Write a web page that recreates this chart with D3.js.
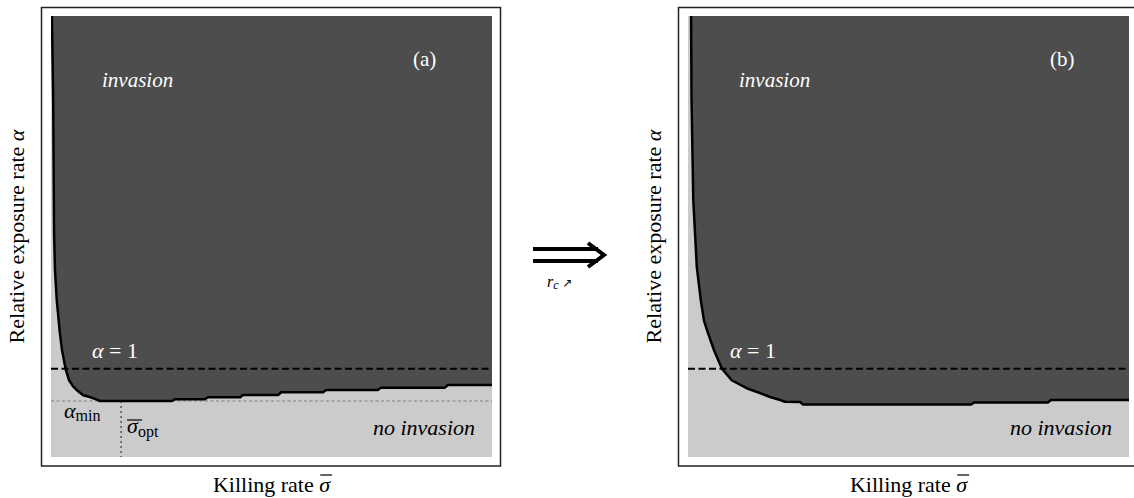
<!DOCTYPE html>
<html>
<head>
<meta charset="utf-8">
<script src="https://cdn.jsdelivr.net/npm/d3@7"></script>
<style>
  body { margin: 0; background: #fff; }
</style>
</head>
<body>
<div id="vis"></div>
<script>
// boundary curves (killing rate sigma, relative exposure alpha)
var sigmaA = [0.02, 0.05, 0.06, 0.07, 0.09, 0.13, 0.20, 0.25, 0.33, 0.41, 0.50, 0.58, 0.73, 0.88, 1.04, 1.11,
              2.74, 2.81, 3.49, 3.56, 4.29, 4.35, 5.15, 5.22, 6.17, 6.24, 7.41, 7.48, 8.93, 9.00, 10.0];
var alphaA = [5.00, 4.05, 3.25, 2.54, 2.12, 1.78, 1.41, 1.21, 1.00, 0.87, 0.80, 0.76, 0.70, 0.68, 0.65, 0.635,
              0.635, 0.654, 0.654, 0.677, 0.677, 0.703, 0.703, 0.734, 0.734, 0.760, 0.760, 0.786, 0.786, 0.816, 0.816];

var sigmaB = [0.07, 0.08, 0.12, 0.20, 0.29, 0.36, 0.45, 0.59, 0.77, 0.99, 1.33, 1.63, 1.86, 2.09, 2.20, 2.54,
              2.61, 6.42, 6.49, 8.16, 8.23, 10.0];
var alphaB = [5.00, 4.05, 2.91, 2.15, 1.78, 1.55, 1.41, 1.21, 1.00, 0.87, 0.78, 0.726, 0.68, 0.646, 0.627, 0.624,
              0.595, 0.595, 0.618, 0.618, 0.646, 0.646];

var alphaOne = 1;
var alphaMin = 0.635;
var sigmaOpt = 1.59;

var panels = [
  { id: 'a', label: '(a)', sigma: sigmaA, alpha: alphaA, left: 51, showMin: true },
  { id: 'b', label: '(b)', sigma: sigmaB, alpha: alphaB, left: 688, showMin: false }
];

var width = 1134, height = 498;
var plotW = 441, plotTop = 16, plotBottom = 457;
var dark = '#4d4d4d', light = '#cbcbcb';
var serif = 'Liberation Serif';

var svg = d3.select('#vis')
    .append('svg')
    .attr('width', width)
    .attr('height', height);

function label(sel, x, y, size) {
  return sel.append('text')
      .attr('x', x).attr('y', y)
      .attr('font-family', serif)
      .attr('font-size', size);
}

panels.forEach(function(p) {
  var x = d3.scaleLinear().domain([0, 10]).range([p.left, p.left + plotW]);
  var y = d3.scaleLinear().domain([0, 5]).range([plotBottom, plotTop]);

  var data = p.sigma.map(function(s, i) { return { s: s, a: p.alpha[i] }; });

  var g = svg.append('g').attr('class', 'panel-' + p.id);

  // frame
  g.append('rect')
      .attr('x', p.left - 9.5)
      .attr('y', 7.5)
      .attr('width', plotW + 18)
      .attr('height', 458.5)
      .attr('fill', 'none')
      .attr('stroke', '#222')
      .attr('stroke-width', 1.5);

  g.append('clipPath').attr('id', 'clip-' + p.id)
    .append('rect')
      .attr('x', x(0)).attr('y', y(5))
      .attr('width', plotW).attr('height', plotBottom - plotTop);

  var plot = g.append('g').attr('clip-path', 'url(#clip-' + p.id + ')');

  // no-invasion background
  plot.append('rect')
      .attr('x', x(0)).attr('y', y(5))
      .attr('width', plotW).attr('height', plotBottom - plotTop)
      .attr('fill', light);

  // invasion region
  var area = d3.area()
      .x(function(d) { return x(d.s); })
      .y0(y(5))
      .y1(function(d) { return y(d.a); });

  plot.append('path')
      .datum(data)
      .attr('d', area)
      .attr('fill', dark);

  if (p.showMin) {
    plot.append('line')
        .attr('x1', x(0)).attr('x2', x(10))
        .attr('y1', y(alphaMin)).attr('y2', y(alphaMin))
        .attr('stroke', '#999')
        .attr('stroke-width', 1.5)
        .attr('stroke-dasharray', '3,2.5');
    plot.append('line')
        .attr('x1', x(sigmaOpt)).attr('x2', x(sigmaOpt))
        .attr('y1', y(alphaMin)).attr('y2', y(0))
        .attr('stroke', '#555')
        .attr('stroke-width', 1.5)
        .attr('stroke-dasharray', '2,3');
  }

  // alpha = 1
  plot.append('line')
      .attr('x1', x(0)).attr('x2', x(10))
      .attr('y1', y(alphaOne)).attr('y2', y(alphaOne))
      .attr('stroke', '#000')
      .attr('stroke-width', 2)
      .attr('stroke-dasharray', '7,3.5');

  var line = d3.line()
      .x(function(d) { return x(d.s); })
      .y(function(d) { return y(d.a); });

  plot.append('path')
      .datum(data)
      .attr('d', line)
      .attr('fill', 'none')
      .attr('stroke', '#000')
      .attr('stroke-width', 2.5)
      .attr('stroke-linejoin', 'round');

  // labels
  label(g, p.left + 51, 87, 21)
      .attr('fill', '#fff')
      .attr('font-style', 'italic')
      .text('invasion');

  label(g, p.left + 362, 66, 21)
      .attr('fill', '#fff')
      .text(p.label);

  var a1 = label(g, p.left + (p.id === 'a' ? 41 : 42), 358, 22).attr('fill', '#fff');
  a1.append('tspan').attr('font-style', 'italic').text('α');
  a1.append('tspan').text(' = 1');

  label(g, p.left + plotW - 17, 435, 22)
      .attr('text-anchor', 'end')
      .attr('fill', '#000')
      .attr('font-style', 'italic')
      .text('no invasion');

  if (p.showMin) {
    var am = label(g, p.left + 13, 418, 22);
    am.append('tspan').attr('font-style', 'italic').text('α');
    am.append('tspan').attr('dy', 3).attr('font-size', 16).text('min');

    var so = label(g, x(sigmaOpt) + 6, 433, 22);
    so.append('tspan').attr('font-style', 'italic').text('σ');
    so.append('tspan').attr('dy', 4).attr('font-size', 16).text('opt');
    g.append('line')
        .attr('x1', x(sigmaOpt) + 6).attr('x2', x(sigmaOpt) + 21)
        .attr('y1', 420).attr('y2', 420)
        .attr('stroke', '#000').attr('stroke-width', 1.2);
  }

  // y axis label
  var yl = g.append('text')
      .attr('transform', 'translate(' + (p.left - 27) + ',' + ((plotTop + plotBottom) / 2) + ') rotate(-90)')
      .attr('text-anchor', 'middle')
      .attr('font-family', serif)
      .attr('font-size', 22);
  yl.append('tspan').text('Relative exposure rate ');
  yl.append('tspan').attr('font-style', 'italic').text('α');

  // x axis label
  var cx = p.left + plotW / 2;
  var xl = label(g, cx, 492, 22).attr('text-anchor', 'middle');
  xl.append('tspan').text('Killing rate ');
  var sig = xl.append('tspan').attr('font-style', 'italic').text('σ');
  var total = xl.node().getComputedTextLength();
  var sw = sig.node().getComputedTextLength();
  var sx = cx + total / 2 - sw;
  g.append('line')
      .attr('x1', sx + 1).attr('x2', sx + sw + 2)
      .attr('y1', 475).attr('y2', 475)
      .attr('stroke', '#000').attr('stroke-width', 1.2);
});

// arrow between panels
var arrow = svg.append('g').attr('class', 'arrow');
arrow.append('line')
    .attr('x1', 533).attr('x2', 598).attr('y1', 249).attr('y2', 249)
    .attr('stroke', '#000').attr('stroke-width', 4);
arrow.append('line')
    .attr('x1', 533).attr('x2', 598).attr('y1', 261).attr('y2', 261)
    .attr('stroke', '#000').attr('stroke-width', 4);
arrow.append('path')
    .attr('d', 'M588,243 L604,255 L588,267')
    .attr('fill', 'none')
    .attr('stroke', '#000').attr('stroke-width', 4);
var rc = label(arrow, 547, 287, 16);
rc.append('tspan').attr('font-style', 'italic').text('r');
rc.append('tspan').attr('dy', 2).attr('font-size', 12).attr('font-style', 'italic').text('c');
rc.append('tspan').attr('dy', -2).attr('dx', 4).attr('font-family', 'DejaVu Sans').attr('font-size', 12).text('↗');
</script>
</body>
</html>
